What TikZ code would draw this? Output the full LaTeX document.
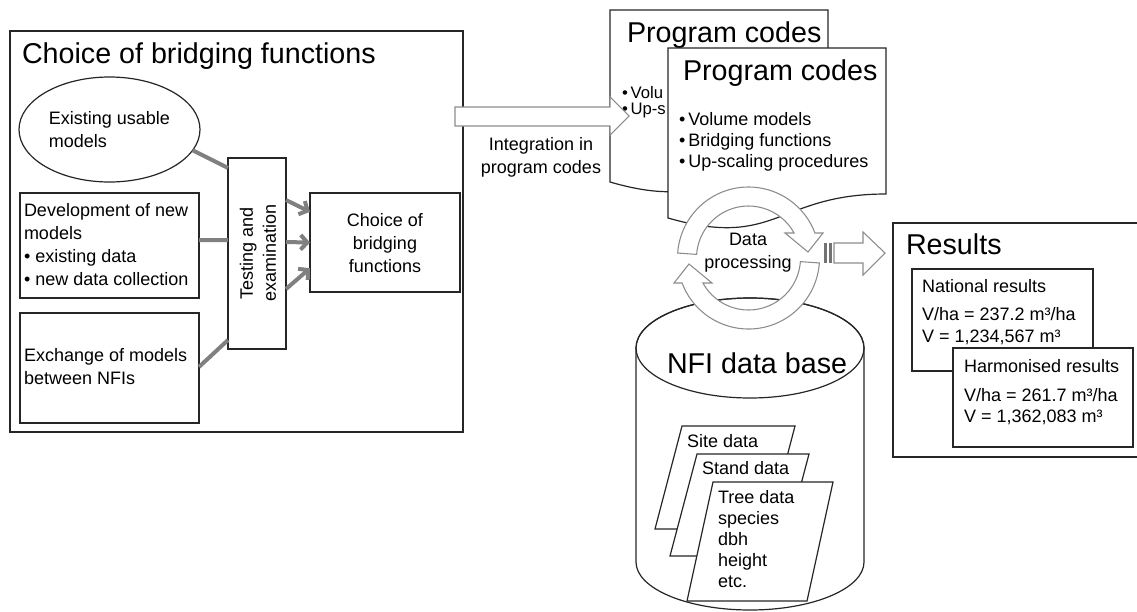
\documentclass[tikz,border=0pt]{standalone}
\usepackage{fontspec}
\setmainfont{Liberation Sans}
\usetikzlibrary{shapes.geometric,arrows.meta,calc}
\begin{document}
\begin{tikzpicture}[x=0.75pt,y=-0.75pt,
  box/.style={draw=black!85, line width=0.9pt, fill=white},
  plain/.style={inner sep=0pt, outer sep=0pt},
  rectbox/.style={box, plain, anchor=north west},
  small/.style={font=\fontsize{13.5}{17.25}\selectfont},
  tiny/.style={font=\fontsize{12.5}{10}\selectfont},
  big/.style={font=\fontsize{21.5}{26}\selectfont},
  txt/.style={plain, anchor=base west},
  gline/.style={draw=black!50, line width=3pt},
  garrow/.style={gline, -{Straight Barb[length=5pt,width=11pt]}},
  hollow/.style={draw=black!45, fill=white, line width=0.8pt, line join=miter},
  ring/.style={draw=black!45, fill=white, line width=0.8pt, line join=miter},
]
\useasboundingbox (0,0) rectangle (1137,611);

% ---------- left panel ----------
\node[rectbox, minimum width=339.75pt, minimum height=300.75pt] (outer) at (10,31) {};
\node[txt, big] (title) at (22,63) {Choice of bridging functions};

\node[box, ellipse, plain, minimum width=135.75pt, minimum height=78.75pt,
      small, align=left] (exist) at (109.5,129.5) {Existing usable\\models};

\node[rectbox, minimum width=134.25pt, minimum height=78.75pt] (dev) at (20,193) {};
\node[txt, small, align=left] (devtxt) at (24,285)
  {Development of new\\models\\• existing data\\• new data collection};

\node[rectbox, minimum width=134.25pt, minimum height=82.5pt] (exch) at (20,313) {};
\node[txt, small, align=left] (exchtxt) at (24,384) {Exchange of models\\between NFIs};

\node[rectbox, minimum width=43.5pt, minimum height=143.25pt] (test) at (228,158) {};
\node[plain, small, align=center, rotate=90] (testtxt) at (258,253) {Testing and\\examination};

\node[rectbox, minimum width=112.5pt, minimum height=74.25pt] (choice) at (310,193) {};
\node[plain, small, align=center] (choicetxt) at (385,243) {Choice of\\bridging\\functions};

\draw[gline] (exist.-14) -- ($(test.north west)!0.052!(test.south west)$);
\draw[gline] ($(dev.north east)!0.448!(dev.south east)$) -- ($(test.north west)!0.43!(test.south west)$);
\draw[gline] ($(exch.north east)!0.49!(exch.south east)$) -- ($(test.north west)!0.953!(test.south west)$);
\draw[garrow] ($(test.north east)!0.22!(test.south east)$) -- ($(choice.north west)!0.19!(choice.south west)$);
\draw[garrow] ($(test.north east)!0.44!(test.south east)$) -- ($(choice.north west)!0.5!(choice.south west)$);
\draw[garrow] ($(test.north east)!0.686!(test.south east)$) -- ($(choice.north west)!0.76!(choice.south west)$);

% ---------- program codes (back) ----------
\draw[box] (610,10) -- (828,10) -- (828,157.6) .. controls (719,157.6) and (719,213.7) .. (610,182) -- cycle;
\node[txt, big] (pc1title) at (627,42) {Program codes};
\node[txt, tiny] (pc1a) at (622,98) {•\,Volu};
\node[txt, tiny] (pc1b) at (622,114) {•\,Up-s};

% ---------- integration arrow ----------
\draw[hollow] (455,107) -- (610,107) -- (610,97) -- (629,116) -- (610,135) -- (610,126) -- (455,126) -- cycle;
\node[plain, small, align=center, anchor=base] (integ) at (541,173) {Integration in\\program codes};

% ---------- program codes (front) ----------
\draw[box] (668,48) -- (886,48) -- (886,194) .. controls (777,194) and (777,249.5) .. (668,218) -- cycle;
\node[txt, big] (pc2title) at (683,80) {Program codes};
\node[txt, small, align=left, font=\fontsize{13.5}{15.75}\selectfont] (pc2list) at (679,167)
  {•\,Volume models\\•\,Bridging functions\\•\,Up-scaling procedures};

% ---------- NFI data base cylinder ----------
\draw[box] (636,348) -- (636,562) arc[start angle=180,end angle=0,x radius=114,y radius=48]
  -- (864,348) arc[start angle=0,end angle=-180,x radius=114,y radius=50] -- cycle;
\draw[draw=black!85, line width=0.9pt] (750,348) ellipse[x radius=114, y radius=50];
\node[txt, big] (nfi) at (667,373) {NFI data base};

\draw[box] (682,426) -- (795,426) -- (768,529) -- (655,529) -- cycle;
\node[txt, small] (site) at (687,447) {Site data};
\draw[box] (697,454) -- (809,454) -- (782,556) -- (670,556) -- cycle;
\node[txt, small] (stand) at (702,474) {Stand data};
\draw[box] (713,482) -- (833,482) -- (807,601) -- (687,601) -- cycle;
\node[txt, small, align=left, font=\fontsize{13.5}{15.75}\selectfont] (tree) at (718,587)
  {Tree data\\species\\dbh\\height\\etc.};

% ---------- data processing ring ----------
\begin{scope}[shift={(748.5,258)}]
\draw[ring] (184:71) arc[start angle=184,end angle=339.4,radius=71] -- (74.5,-25) -- (59.5,-6)
  -- (36.5,-25) -- (331.3:52) arc[start angle=331.3,end angle=184,radius=52] -- cycle;
\draw[ring] (4:71) arc[start angle=4,end angle=159.4,radius=71] -- (-74.5,25) -- (-59.5,6)
  -- (-36.5,25) -- (151.3:52) arc[start angle=151.3,end angle=4,radius=52] -- cycle;
\end{scope}
\node[plain, small, align=center] (dp) at (748,253) {Data\\processing};

% ---------- results arrow ----------
\fill[black!55] (824,243) rectangle (827,263);
\fill[black!55] (829,243) rectangle (832,263);
\draw[hollow] (834,243) -- (863,243) -- (863,232) -- (885,253) -- (863,275) -- (863,263) -- (834,263) -- cycle;

% ---------- results ----------
\node[rectbox, minimum width=189pt, minimum height=175.5pt] (results) at (893,223) {};
\node[txt, big] (restitle) at (906,254) {Results};
\node[rectbox, minimum width=135.75pt, minimum height=76.5pt] (nat) at (912,269) {};
\node[txt, small] (nat1) at (922,292) {National results};
\node[txt, small] (nat2) at (922,320) {V/ha = 237.2 m³/ha};
\node[txt, small] (nat3) at (922,342) {V = 1,234,567 m³};
\node[rectbox, minimum width=135pt, minimum height=74.25pt] (harm) at (953,348) {};
\node[txt, small] (harm1) at (964,372) {Harmonised results};
\node[txt, small] (harm2) at (964,401) {V/ha = 261.7 m³/ha};
\node[txt, small] (harm3) at (964,422) {V = 1,362,083 m³};
\end{tikzpicture}
\end{document}
